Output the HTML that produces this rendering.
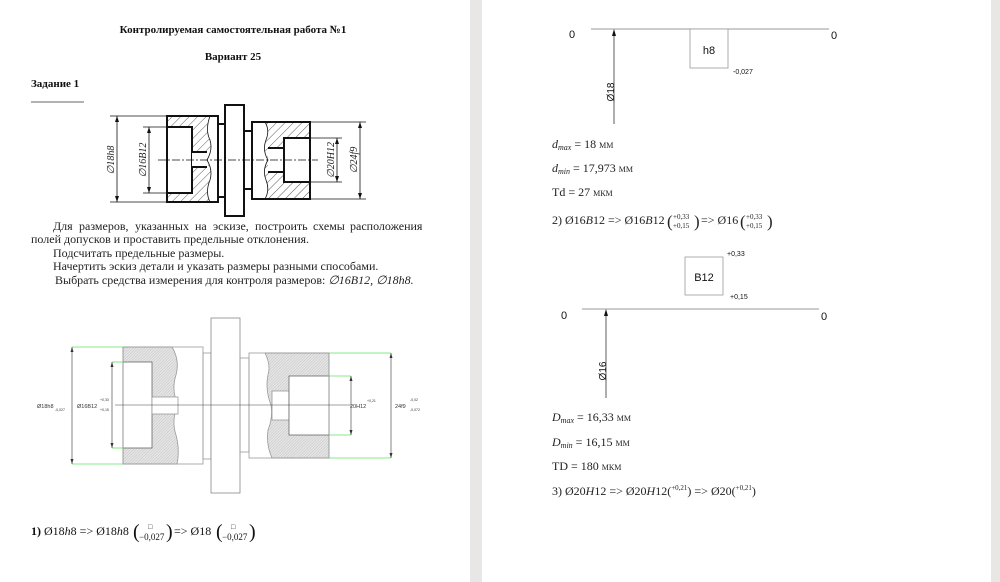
<!DOCTYPE html>
<html><head><meta charset="utf-8"><style>
html,body{margin:0;padding:0;background:#fff}
svg{display:block}
.s{font-family:"Liberation Serif",serif}
.a{font-family:"Liberation Sans",sans-serif}
</style></head><body>
<svg width="1000" height="582" viewBox="0 0 1000 582" xmlns="http://www.w3.org/2000/svg">
<defs>
<pattern id="h1" width="6" height="6" patternUnits="userSpaceOnUse" patternTransform="rotate(45)"><line x1="0" y1="0" x2="0" y2="6" stroke="#333" stroke-width="0.8"/></pattern>
<pattern id="h2" width="2" height="2" patternUnits="userSpaceOnUse" patternTransform="rotate(45)"><rect width="2" height="2" fill="#e6e6e6"/><line x1="0" y1="0" x2="0" y2="2" stroke="#aaa" stroke-width="0.6"/></pattern>
</defs>
<rect width="1000" height="582" fill="#fff"/>
<rect x="470" y="0" width="12" height="582" fill="#e9e7e5"/>
<rect x="991" y="0" width="9" height="582" fill="#e9e7e5"/>

<!-- LEFT PAGE -->
<g class="s" font-weight="bold" font-size="11" fill="#111">
<text x="233" y="33" text-anchor="middle">Контролируемая самостоятельная работа №1</text>
<text x="233" y="60" text-anchor="middle">Вариант 25</text>
<text x="31" y="87">Задание 1</text>
</g>
<line x1="31" y1="102" x2="84" y2="102" stroke="#333" stroke-width="0.8"/>

<!-- sketch 1 -->
<g stroke="#111" fill="none">
<path d="M167,116 H210 Q205,130 210,140 Q213,150 207,160 Q213,170 210,180 Q205,192 210,202 H167 Z" fill="url(#h1)" stroke="none"/>
<rect x="167" y="127" width="25" height="66" fill="#fff" stroke-width="2"/>
<rect x="192" y="152" width="16" height="15" fill="#fff" stroke="none"/>
<line x1="192" y1="152" x2="207" y2="152" stroke-width="2"/>
<line x1="192" y1="167" x2="207" y2="167" stroke-width="2"/>
<path d="M210,116 Q205,130 210,140 Q213,150 207,160 Q213,170 210,180 Q205,192 210,202" stroke-width="0.8"/>
<rect x="167" y="116" width="51" height="86" stroke-width="2"/>
<rect x="218" y="124" width="7" height="73" stroke-width="2"/>
<rect x="225" y="105" width="19" height="111" stroke-width="2" fill="#fff"/>
<rect x="244" y="131" width="8" height="58" stroke-width="2"/>
<path d="M265,122 H310 V199 H265 Q270,190 266,180 Q262,170 268,160 Q262,150 266,140 Q270,130 265,122 Z" fill="url(#h1)" stroke="none"/>
<rect x="268" y="148" width="16" height="24" fill="#fff" stroke="none"/>
<line x1="268" y1="148" x2="284" y2="148" stroke-width="2"/>
<line x1="268" y1="172" x2="284" y2="172" stroke-width="2"/>
<rect x="284" y="138" width="26" height="44" fill="#fff" stroke-width="2"/>
<path d="M265,122 Q270,130 266,140 Q262,150 268,160 Q262,170 266,180 Q270,190 265,199" stroke-width="0.8"/>
<rect x="252" y="122" width="58" height="77" stroke-width="2"/>
<line x1="158" y1="160" x2="318" y2="160" stroke-width="0.8" stroke-dasharray="8,2,2,2"/>
<g stroke-width="0.8">
<line x1="110" y1="116" x2="167" y2="116"/><line x1="110" y1="202" x2="167" y2="202"/>
<line x1="117" y1="116" x2="117" y2="202"/>
<line x1="143" y1="127" x2="167" y2="127"/><line x1="143" y1="193" x2="167" y2="193"/>
<line x1="149" y1="127" x2="149" y2="193"/>
<line x1="310" y1="138" x2="342" y2="138"/><line x1="310" y1="182" x2="342" y2="182"/>
<line x1="337" y1="138" x2="337" y2="182"/>
<line x1="310" y1="122" x2="366" y2="122"/><line x1="310" y1="199" x2="366" y2="199"/>
<line x1="360" y1="122" x2="360" y2="199"/>
</g>
</g>
<g fill="#111">
<path d="M117,116 l-2,6 h4z M117,202 l-2,-6 h4z M149,127 l-2,6 h4z M149,193 l-2,-6 h4z M337,138 l-2,6 h4z M337,182 l-2,-6 h4z M360,122 l-2,6 h4z M360,199 l-2,-6 h4z"/>
</g>
<g class="s" font-style="italic" font-size="10" fill="#222">
<text transform="translate(114,160) rotate(-90)" text-anchor="middle">∅18h8</text>
<text transform="translate(146,160) rotate(-90)" text-anchor="middle">∅16B12</text>
<text transform="translate(334,160) rotate(-90)" text-anchor="middle">∅20H12</text>
<text transform="translate(357,160) rotate(-90)" text-anchor="middle">∅24f9</text>
</g>

<g class="s" font-size="12" fill="#222">
<text y="230"><tspan x="53">Для</tspan><tspan x="79">размеров,</tspan><tspan x="135">указанных</tspan><tspan x="195">на</tspan><tspan x="213">эскизе,</tspan><tspan x="255">построить</tspan><tspan x="313">схемы</tspan><tspan x="350">расположения</tspan></text>
<text x="31" y="243">полей допусков и проставить предельные отклонения.</text>
<text x="53" y="257">Подсчитать предельные размеры.</text>
<text x="53" y="270">Начертить эскиз детали и указать размеры разными способами.</text>
<text x="55" y="284">Выбрать средства измерения для контроля размеров: <tspan font-style="italic">∅16B12, ∅18h8.</tspan></text>
</g>

<!-- sketch 2 -->
<g stroke="#999" fill="none" stroke-width="0.8">
<path d="M123,347 H172 Q180,360 176,375 Q171,390 178,405 Q171,420 176,435 Q180,450 177,464 H123 Z" fill="url(#h2)"/>
<rect x="123" y="362" width="29" height="86" fill="#fff" stroke="#666"/>
<rect x="152" y="397" width="26" height="17" fill="#fff" stroke="#999"/>
<rect x="123" y="347" width="80" height="117"/>
<rect x="203" y="353" width="8" height="106"/>
<rect x="211" y="318" width="29" height="175" fill="#fff" stroke="#888"/>
<rect x="240" y="358" width="9" height="94"/>
<path d="M265,353 H329 V458 H272 Q266,445 268,430 Q273,418 271,405 Q265,390 268,375 Q271,365 265,353 Z" fill="url(#h2)"/>
<rect x="272" y="391" width="17" height="29" fill="#fff"/>
<rect x="289" y="376" width="40" height="59" fill="#fff" stroke="#666"/>
<rect x="249" y="353" width="80" height="105"/>
</g>
<line x1="115" y1="405" x2="350" y2="405" stroke="#444" stroke-width="0.6"/>
<g stroke="#5fe05f" stroke-width="0.8">
<line x1="72" y1="347" x2="123" y2="347"/><line x1="72" y1="464" x2="123" y2="464"/>
<line x1="112" y1="362" x2="123" y2="362"/><line x1="112" y1="448" x2="123" y2="448"/>
<line x1="329" y1="353" x2="391" y2="353"/><line x1="329" y1="458" x2="391" y2="458"/>
<line x1="329" y1="376" x2="351" y2="376"/><line x1="329" y1="435" x2="351" y2="435"/>
</g>
<g stroke="#333" stroke-width="0.6">
<line x1="72" y1="347" x2="72" y2="464"/><line x1="112" y1="362" x2="112" y2="448"/>
<line x1="351" y1="376" x2="351" y2="435"/><line x1="391" y1="353" x2="391" y2="458"/>
</g>
<g fill="#333"><path d="M72,347 l-1.5,5 h3z M72,464 l-1.5,-5 h3z M112,362 l-1.5,5 h3z M112,448 l-1.5,-5 h3z M351,376 l-1.5,5 h3z M351,435 l-1.5,-5 h3z M391,353 l-1.5,5 h3z M391,458 l-1.5,-5 h3z"/></g>
<g class="a" fill="#333" font-size="5.5">
<text x="37" y="408">Ø18h8</text><text x="55" y="411" font-size="3.5">-0,027</text>
<text x="77" y="408">Ø16B12</text><text x="100" y="401" font-size="3.5">+0,33</text><text x="100" y="411" font-size="3.5">+0,15</text>
<text x="350" y="408">20H12</text><text x="367" y="402" font-size="3.5">+0,21</text>
<text x="395" y="408">24f9</text><text x="410" y="401" font-size="3.5">-0,02</text><text x="410" y="411" font-size="3.5">-0,072</text>
</g>
<g class="s" font-size="12" fill="#111">
<text x="31" y="535"><tspan font-weight="bold">1)</tspan> Ø18<tspan font-style="italic">h</tspan>8 => Ø18<tspan font-style="italic">h</tspan>8</text>
<text x="133" y="538" font-size="20" font-weight="100">(</text><text x="166" y="538" font-size="20">)</text>
<text x="148" y="529" font-size="7">□</text><text x="139" y="540" font-size="9">−0,027</text>
<text x="174" y="535">=&gt;  Ø18</text>
<text x="216" y="538" font-size="20">(</text><text x="249" y="538" font-size="20">)</text>
<text x="231" y="529" font-size="7">□</text><text x="222" y="540" font-size="9">−0,027</text>
</g>

<!-- RIGHT PAGE -->
<g class="a" fill="#111">
<line x1="591" y1="29" x2="829" y2="29" stroke="#999" stroke-width="1"/>
<text x="569" y="38" font-size="11">0</text><text x="831" y="39" font-size="11">0</text>
<line x1="614" y1="31" x2="614" y2="124" stroke="#333" stroke-width="0.8"/>
<path d="M614,29 l-2,7 h4z"/>
<text transform="translate(614,92) rotate(-90)" font-size="10" text-anchor="middle">Ø18</text>
<rect x="690" y="29" width="38" height="39" fill="#fff" stroke="#999" stroke-width="0.8"/>
<text x="709" y="54" font-size="11" text-anchor="middle">h8</text>
<text x="733" y="74" font-size="7">-0,027</text>

<text x="727" y="256" font-size="7">+0,33</text>
<rect x="685" y="257" width="38" height="38" fill="#fff" stroke="#999" stroke-width="0.8"/>
<text x="704" y="281" font-size="11" text-anchor="middle">B12</text>
<text x="730" y="299" font-size="7">+0,15</text>
<line x1="582" y1="309" x2="819" y2="309" stroke="#999" stroke-width="1"/>
<text x="561" y="319" font-size="11">0</text><text x="821" y="320" font-size="11">0</text>
<line x1="606" y1="311" x2="606" y2="398" stroke="#333" stroke-width="0.8"/>
<path d="M606,309 l-2,7 h4z"/>
<text transform="translate(606,371) rotate(-90)" font-size="10" text-anchor="middle">Ø16</text>
</g>
<g class="s" font-size="12" fill="#222">
<text x="552" y="148"><tspan font-style="italic">d<tspan font-size="8" dy="2">max</tspan></tspan><tspan dy="-2"> = 18 </tspan><tspan font-size="8">ММ</tspan></text>
<text x="552" y="172"><tspan font-style="italic">d<tspan font-size="8" dy="2">min</tspan></tspan><tspan dy="-2"> = 17,973  </tspan><tspan font-size="8">ММ</tspan></text>
<text x="552" y="196">Td = 27 <tspan font-size="8">МКМ</tspan></text>
<text x="552" y="224">2) Ø16<tspan font-style="italic">B</tspan>12 =&gt; Ø16<tspan font-style="italic">B</tspan>12</text>
<text x="667" y="227" font-size="17">(</text><text x="694" y="227" font-size="17">)</text>
<text x="673" y="219" font-size="7">+0,33</text><text x="673" y="228" font-size="7">+0,15</text>
<text x="701" y="224">=&gt; Ø16</text>
<text x="740" y="227" font-size="17">(</text><text x="767" y="227" font-size="17">)</text>
<text x="746" y="219" font-size="7">+0,33</text><text x="746" y="228" font-size="7">+0,15</text>

<text x="552" y="421"><tspan font-style="italic">D<tspan font-size="8" dy="2">max</tspan></tspan><tspan dy="-2"> = 16,33 </tspan><tspan font-size="8">ММ</tspan></text>
<text x="552" y="446"><tspan font-style="italic">D<tspan font-size="8" dy="2">min</tspan></tspan><tspan dy="-2"> = 16,15 </tspan><tspan font-size="8">ММ</tspan></text>
<text x="552" y="470">TD = 180 <tspan font-size="8">МКМ</tspan></text>
<text x="552" y="495">3) Ø20<tspan font-style="italic">H</tspan>12 =&gt;  Ø20<tspan font-style="italic">H</tspan>12(<tspan font-size="7" dy="-5">+0,21</tspan><tspan dy="5">) =&gt;  Ø20(</tspan><tspan font-size="7" dy="-5">+0,21</tspan><tspan dy="5">)</tspan></text>
</g>
</svg>
</body></html>
